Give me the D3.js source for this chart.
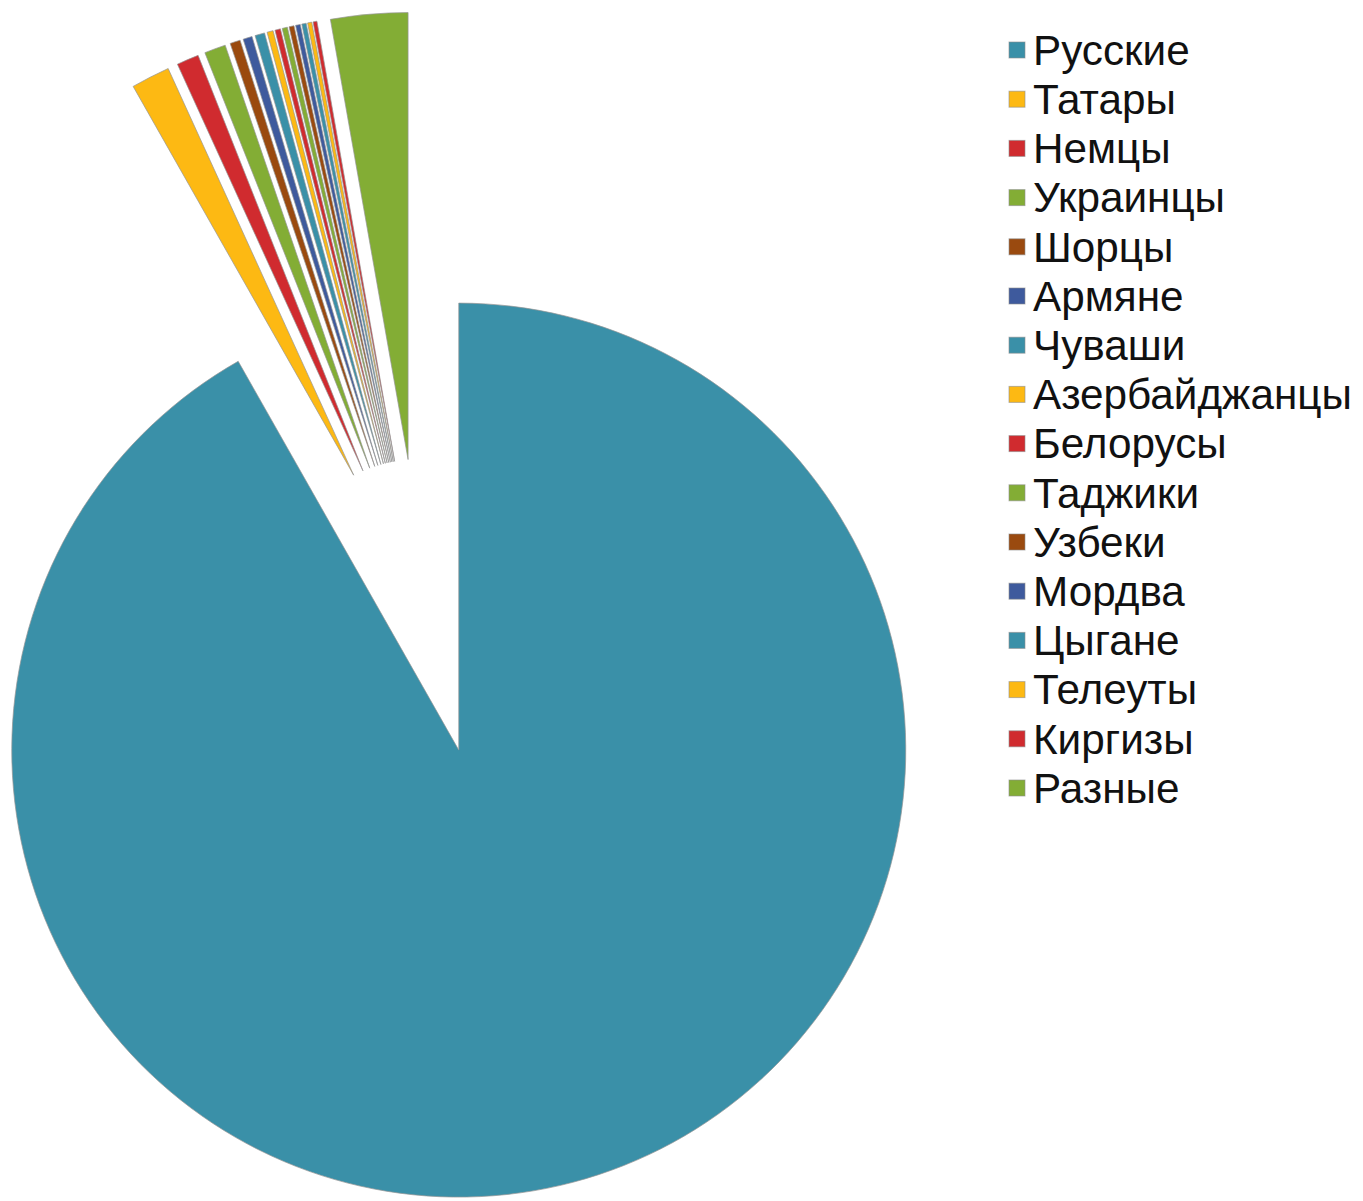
<!DOCTYPE html>
<html><head><meta charset="utf-8">
<script src="https://cdn.jsdelivr.net/npm/d3@7"></script>
<style>body{margin:0;background:#fff;}svg{display:block;}</style>
</head><body>
<svg id="chart" width="1363" height="1201"></svg>
<script>
const categories = ["Русские","Татары","Немцы","Украинцы","Шорцы","Армяне","Чуваши","Азербайджанцы","Белорусы","Таджики","Узбеки","Мордва","Цыгане","Телеуты","Киргизы","Разные"];
const values = [91.75,1.4,0.8,0.77,0.37,0.33,0.35,0.22,0.2,0.19,0.18,0.17,0.16,0.15,0.14,2.78];
const palette = ["#3A90A8","#FDB913","#D02B2F","#83AD35","#9A4A0F","#3E5A9D"];

const svg = d3.select("#chart");
const cx = 421, cy = 607, R = 447, explode = 148;
const pie = d3.pie().sort(null).value(d => d.v);
const data = categories.map((c,i)=>({c, v: values[i], i}));
const arcs = pie(data);
const arc = d3.arc().innerRadius(0).outerRadius(R);
const color = i => palette[i % palette.length];

const g = svg.append("g").attr("transform", `translate(${cx},${cy})`);
g.selectAll("path").data(arcs).join("path")
  .attr("d", arc)
  .attr("transform", d => {
    const m = (d.startAngle + d.endAngle)/2;
    return `translate(${explode*Math.sin(m)},${-explode*Math.cos(m)})`;
  })
  .attr("fill", d => color(d.index))
  .attr("stroke", "rgba(150,150,150,0.7)")
  .attr("stroke-width", 1);

// legend
const lg = svg.append("g");
const rowY = 50, rowH = 49.2, sqX = 1009, sq = 16, txX = 1033;
const items = lg.selectAll("g").data(categories).join("g")
  .attr("transform", (d,i)=>`translate(0,${rowY + i*rowH})`);
items.append("rect").attr("x", sqX).attr("y", -sq/2).attr("width", sq).attr("height", sq)
  .attr("fill", (d,i)=>color(i)).attr("stroke","rgba(140,140,140,0.6)").attr("stroke-width",1);
const texts = items.append("text").attr("x", txX).attr("y", 0).attr("dy","0.35em")
  .attr("font-family","Liberation Sans, Arial, sans-serif").attr("font-size", 36)
  .attr("fill","#111").text(d=>d);
// fit font so the longest label spans the measured width
const longest = texts.filter(d=>d==="Азербайджанцы").node();
const w = longest.getComputedTextLength();
const fs = 36 * 319 / w;
texts.attr("font-size", fs);
</script>
</body></html>
